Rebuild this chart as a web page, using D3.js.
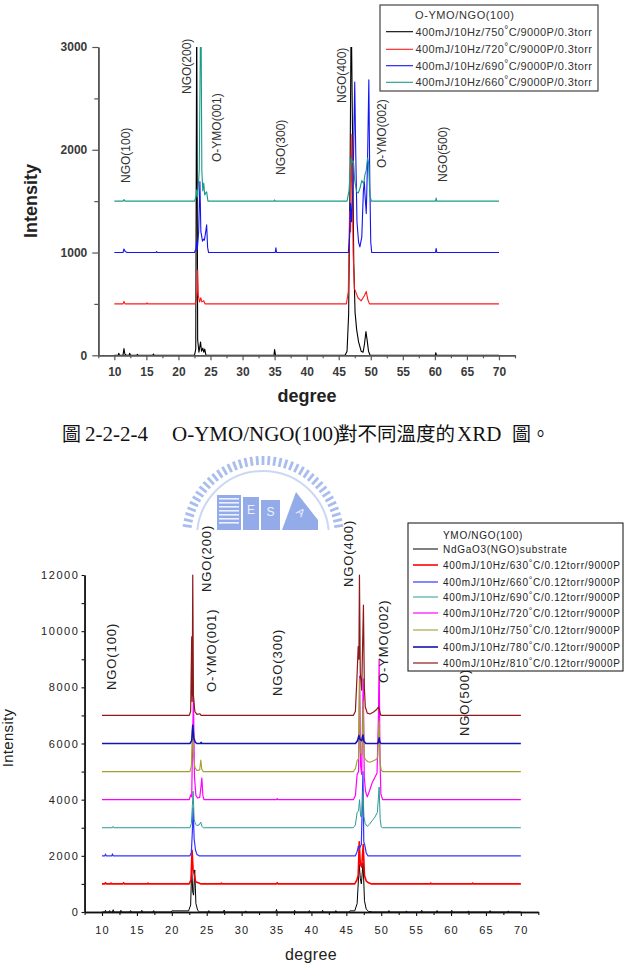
<!DOCTYPE html>
<html><head><meta charset="utf-8">
<script src="https://cdn.jsdelivr.net/npm/d3@7"></script>
<style>body{margin:0;background:#fff;} svg{display:block;}</style>
</head><body>
<svg id="c" width="624" height="980"></svg>
<script>
// ---------------- DATA ----------------
const xMajorTicks = [10,15,20,25,30,35,40,45,50,55,60,65,70];
const xMinorTicks = [7.5,12.5,17.5,22.5,27.5,32.5,37.5,42.5,47.5,52.5,57.5,62.5,67.5,72.5];
const topYTicks = [0,1000,2000,3000];
const topYMinor = [500,1500,2500];
const botYTicks = [0,2000,4000,6000,8000,10000,12000];
const botYMinor = [1000,3000,5000,7000,9000,11000];

const topLegendTitle = "O-YMO/NGO(100)";
const topLabels = ["400mJ/10Hz/750°C/9000P/0.3torr","400mJ/10Hz/720°C/9000P/0.3torr","400mJ/10Hz/690°C/9000P/0.3torr","400mJ/10Hz/660°C/9000P/0.3torr"];
const topOffsets = [0,500,1000,1500];

const top750 = [[10,0],[10.6,0],[10.7,20],[10.8,0],[11.35,0],[11.5,65],[11.65,10],[11.9,0],[12.3,0],[12.4,20],[12.5,0],[13.5,0],[13.6,10],[13.7,0],[16.0,0],[16.1,12],[16.2,0],[22.5,0],[22.7,60],[22.85,3400],[23.0,150],[23.2,30],[23.45,130],[23.6,40],[23.8,70],[23.95,30],[24.1,60],[24.3,0],[34.9,0],[35.0,55],[35.15,0],[46.0,0],[46.3,40],[46.55,400],[46.75,1600],[46.95,3400],[47.15,2200],[47.35,900],[47.55,420],[47.8,250],[48.1,130],[48.5,40],[48.8,30],[49.0,100],[49.25,230],[49.45,140],[49.65,40],[49.9,0],[60.05,0],[60.15,25],[60.25,0],[70,0]];
const top720 = [[10,0],[11.35,0],[11.5,25],[11.65,0],[15,0],[15.1,10],[15.2,0],[22.6,0],[22.8,40],[22.9,120],[23.0,330],[23.1,80],[23.3,20],[23.5,60],[23.65,20],[23.95,30],[24.15,0],[46.2,0],[46.5,120],[46.7,900],[46.85,700],[47.05,1650],[47.25,500],[47.45,150],[47.7,110],[48.0,60],[48.5,30],[49.0,80],[49.3,120],[49.55,40],[49.8,0],[70,0]];
const top690 = [[10,0],[11.35,0],[11.5,35],[11.7,10],[12.0,0],[16.5,0],[16.6,10],[16.7,0],[22.5,0],[22.75,40],[22.85,110],[22.95,30],[23.15,200],[23.35,690],[23.5,200],[23.6,170],[23.75,110],[23.9,130],[24.05,120],[24.25,200],[24.4,270],[24.55,50],[24.7,0],[35.1,0],[35.2,45],[35.3,0],[46.5,0],[46.7,150],[46.85,480],[47.0,300],[47.25,700],[47.5,1660],[47.65,1000],[47.85,300],[48.1,100],[48.3,55],[48.6,150],[48.85,600],[49.0,690],[49.1,560],[49.3,380],[49.5,900],[49.7,1680],[49.85,700],[50.0,100],[50.15,0],[60.1,0],[60.2,40],[60.3,0],[70,0]];
const top660 = [[10,0],[11.35,0],[11.5,15],[11.65,0],[22.5,0],[22.75,40],[22.85,110],[23.0,40],[23.25,300],[23.5,2100],[23.65,300],[23.8,100],[23.95,175],[24.1,60],[24.25,80],[24.4,90],[24.6,0],[34.9,0],[35.0,12],[35.1,0],[46.3,0],[46.6,100],[46.8,300],[46.95,420],[47.1,380],[47.3,390],[47.5,200],[47.8,90],[48.05,80],[48.3,120],[48.6,200],[48.9,170],[49.1,260],[49.3,300],[49.5,420],[49.65,380],[49.85,60],[50.1,0],[60.1,0],[60.2,30],[60.3,0],[70,0]];
const topSeries = [top750, top720, top690, top660];
const topColors = ["#000000","#ff1a1a","#1414f0","#1a9a8c"];

const topPeakLabels = ["NGO(100)","NGO(200)","O-YMO(001)","NGO(300)","NGO(400)","O-YMO(002)","NGO(500)"];

const botLegendTitle = "YMO/NGO(100)";
const botLabels = ["NdGaO3(NGO)substrate","400mJ/10Hz/630°C/0.12torr/9000P","400mJ/10Hz/660°C/0.12torr/9000P","400mJ/10Hz/690°C/0.12torr/9000P","400mJ/10Hz/720°C/0.12torr/9000P","400mJ/10Hz/750°C/0.12torr/9000P","400mJ/10Hz/780°C/0.12torr/9000P","400mJ/10Hz/810°C/0.12torr/9000P"];
const botOffsets = [0,1000,2000,3000,4000,5000,6000,7000];

const botSub = [[10,0],[10.4,0],[10.5,60],[10.6,0],[11.0,0],[11.1,50],[11.2,0],[11.5,0],[11.6,80],[11.7,0],[12.6,0],[12.7,60],[12.8,0],[14.0,0],[14.1,50],[14.2,0],[15.6,0],[15.7,60],[15.8,0],[17.3,0],[17.4,50],[17.5,0],[19.9,0],[20.0,40],[22.4,40],[22.7,250],[22.85,1600],[23.0,700],[23.12,600],[23.28,1500],[23.45,300],[23.7,60],[24.0,0],[25.2,0],[25.3,50],[25.4,0],[27.4,0],[27.5,70],[27.6,0],[30.5,0],[30.6,40],[30.7,0],[34.9,0],[35.0,90],[35.1,0],[37.5,0],[37.6,60],[37.7,0],[39.6,0],[39.7,50],[39.8,0],[41.5,0],[41.6,60],[41.7,0],[43.4,0],[43.5,50],[43.6,0],[45.4,0],[45.5,40],[46.2,40],[46.55,300],[46.85,1700],[47.0,1200],[47.15,1000],[47.4,1750],[47.6,400],[47.85,100],[48.2,20],[48.8,0],[51.0,0],[51.1,50],[51.2,0],[53.5,0],[53.6,40],[53.7,0],[55.7,0],[55.8,60],[55.9,0],[57.9,0],[58.0,50],[58.1,0],[60.0,0],[60.1,60],[60.2,0],[62.4,0],[62.5,40],[62.6,0],[65.5,0],[65.6,50],[65.7,0],[68.1,0],[68.2,40],[68.3,0],[70,0]];
const bot630 = [[10,0],[10.4,0],[10.5,40],[10.6,0],[11.2,0],[11.3,30],[11.4,0],[13.0,0],[13.1,40],[13.2,0],[16.5,0],[16.6,30],[16.7,0],[22.5,0],[22.75,150],[22.9,1200],[23.05,500],[23.2,350],[23.4,80],[23.8,40],[24.2,0],[27.0,0],[27.1,30],[27.2,0],[35.0,0],[35.1,40],[35.2,0],[46.2,0],[46.5,130],[46.7,300],[46.85,1500],[47.0,700],[47.2,600],[47.42,1400],[47.6,300],[47.85,100],[48.2,40],[48.6,0],[57.0,0],[57.1,30],[57.2,0],[63.0,0],[63.1,30],[63.2,0],[70,0]];
const bot660 = [[10,0],[10.4,0],[10.5,60],[10.6,0],[11.4,0],[11.5,70],[11.6,0],[22.6,0],[22.8,120],[22.95,900],[23.05,1700],[23.2,600],[23.4,200],[23.6,50],[23.9,0],[46.3,0],[46.55,150],[46.72,350],[46.85,250],[47.15,400],[47.38,3000],[47.5,500],[47.65,370],[47.85,100],[48.1,0],[70,0]];
const bot690 = [[10,0],[11.5,0],[11.6,50],[11.7,0],[22.6,0],[22.8,150],[22.95,800],[23.05,1300],[23.2,300],[23.4,120],[23.6,80],[23.9,100],[24.15,200],[24.3,60],[24.5,0],[46.0,0],[46.3,100],[46.55,550],[46.75,600],[46.9,1000],[47.05,400],[47.2,400],[47.4,1300],[47.52,400],[47.7,150],[48.0,50],[48.3,120],[48.7,250],[49.1,380],[49.45,550],[49.7,1450],[49.85,300],[50.0,30],[50.2,0],[70,0]];
const bot720 = [[10,0],[22.5,0],[22.7,170],[22.85,100],[23.0,2500],[23.1,3600],[23.25,800],[23.45,150],[23.7,60],[24.0,80],[24.2,500],[24.3,770],[24.45,150],[24.6,0],[35,0],[35.1,40],[35.2,0],[46.0,0],[46.3,150],[46.55,900],[46.75,1000],[46.9,4400],[47.05,1200],[47.2,900],[47.42,4300],[47.57,800],[47.75,300],[48.0,100],[48.3,300],[48.7,600],[49.1,800],[49.4,950],[49.6,3000],[49.7,5000],[49.82,1500],[49.95,200],[50.2,0],[70,0]];
const bot750 = [[10,0],[22.6,0],[22.8,200],[22.95,1500],[23.1,600],[23.3,150],[23.6,40],[24.0,60],[24.15,410],[24.3,80],[24.5,0],[46.0,0],[46.3,100],[46.55,400],[46.75,450],[46.88,3300],[47.0,700],[47.25,600],[47.42,2500],[47.57,500],[47.8,420],[48.1,350],[48.4,330],[48.8,380],[49.2,420],[49.5,500],[49.7,1800],[49.85,300],[50.0,50],[50.2,0],[70,0]];
const bot780 = [[10,0],[22.6,0],[22.85,100],[23.0,650],[23.15,200],[23.35,50],[23.6,0],[24.1,0],[24.2,40],[24.3,0],[46.3,0],[46.6,100],[46.8,280],[46.95,150],[47.2,100],[47.38,300],[47.52,80],[47.8,0],[49.5,0],[49.6,80],[49.7,200],[49.8,40],[50.0,0],[70,0]];
const bot810 = [[10,0],[22.5,0],[22.7,150],[22.85,2800],[22.92,500],[23.0,5000],[23.1,700],[23.3,140],[23.6,40],[24.0,60],[24.2,0],[46.0,0],[46.3,150],[46.55,1500],[46.7,2450],[46.8,2000],[46.88,5000],[47.0,1500],[47.2,900],[47.45,3930],[47.58,1000],[47.72,300],[48.0,80],[48.4,50],[48.9,120],[49.3,200],[49.6,300],[49.75,200],[49.9,20],[50.1,0],[70,0]];
const botSeries = [botSub, bot630, bot660, bot690, bot720, bot750, bot780, bot810];
const botColors = ["#000000","#ff0000","#3434ff","#2a9a94","#ff00ff","#a0a030","#1414b0","#8b1a1a"];
const botWidths = [1,1.6,1.2,1,1.2,1.1,1.6,1.2];

const botPeakLabels = ["NGO(100)","NGO(200)","O-YMO(001)","NGO(300)","NGO(400)","O-YMO(002)","NGO(500)"];

// ---------------- DRAW ----------------
const svg = d3.select("#c");
svg.append("rect").attr("width",624).attr("height",980).attr("fill","#fff");
const SANS = "'Liberation Sans', Arial, sans-serif";

// watermark logo (partly hidden behind the lower figure)
(function logo(){
  const defs = svg.append("defs");
  defs.append("clipPath").attr("id","logoClip").append("rect").attr("x",150).attr("y",440).attr("width",240).attr("height",90);
  const g = svg.append("g").attr("clip-path","url(#logoClip)").attr("opacity",0.85);
  const cx = 263, cy = 537, col = "#9bb3ec";
  for (let a = 184; a <= 356; a += 4.3) {
    g.append("rect").attr("x",-1.4).attr("y",-81).attr("width",2.8).attr("height",9)
      .attr("fill",col).attr("transform",`translate(${cx},${cy}) rotate(${a+90})`);
  }
  g.append("circle").attr("cx",cx).attr("cy",cy).attr("r",66).attr("fill","none").attr("stroke","#c3d1f4").attr("stroke-width",2);
  g.append("rect").attr("x",217).attr("y",495).attr("width",24).attr("height",35).attr("fill","#819ee6");
  for (let i=0;i<7;i++) g.append("rect").attr("x",219).attr("y",498+i*4).attr("width",20).attr("height",1.6).attr("fill","#e8eefc");
  g.append("rect").attr("x",243).attr("y",497).attr("width",16).attr("height",33).attr("fill","#819ee6");
  g.append("text").attr("x",251).attr("y",514).attr("text-anchor","middle").attr("font-family",SANS).attr("font-size",12).attr("fill","#e8eefc").text("E");
  g.append("rect").attr("x",261).attr("y",500).attr("width",19).attr("height",30).attr("fill","#819ee6");
  g.append("text").attr("x",270.5).attr("y",516).attr("text-anchor","middle").attr("font-family",SANS).attr("font-size",12).attr("fill","#e8eefc").text("S");
  g.append("path").attr("d","M282,530 L296,492 L318,520 L318,530 Z").attr("fill","#819ee6");
  g.append("text").attr("x",301).attr("y",516).attr("text-anchor","middle").attr("font-family",SANS).attr("font-size",11).attr("fill","#e8eefc").attr("transform","rotate(40,301,512)").text("A");
})();

function degreeText(sel, label, fs){
  const parts = label.split("°");
  sel.append("tspan").text(parts[0]);
  if (parts.length > 1) {
    sel.append("tspan").attr("dy",-3).attr("font-size",fs-1).text("°");
    sel.append("tspan").attr("dy",3).text(parts[1]);
  }
}

// ===== TOP CHART =====
{
  const x = d3.scaleLinear().domain([7.5,72.5]).range([98.3,515]);
  const y = d3.scaleLinear().domain([0,3000]).range([355.3,47]);
  const axisCol = "#555";
  svg.append("defs").append("clipPath").attr("id","topClip").append("rect")
    .attr("x",90).attr("y",47).attr("width",440).attr("height",320);
  const lg = svg.append("g").attr("clip-path","url(#topClip)");
  topSeries.forEach((s,i)=>{
    const line = d3.line().x(d=>x(d[0])).y(d=>y(d[1]+topOffsets[i]));
    lg.append("path").attr("d",line(s)).attr("fill","none").attr("stroke",topColors[i])
      .attr("stroke-width",1.1).attr("stroke-linejoin","round");
  });
  const gx = svg.append("g").attr("transform",`translate(0,${y(0)})`);
  gx.call(d3.axisBottom(x).tickValues(xMinorTicks).tickSize(3).tickSizeOuter(0).tickFormat(""));
  const gx2 = svg.append("g").attr("transform",`translate(0,${y(0)})`);
  gx2.call(d3.axisBottom(x).tickValues(xMajorTicks).tickSize(5).tickSizeOuter(0).tickFormat(d3.format("d")));
  const gy = svg.append("g").attr("transform",`translate(${x(7.5)},0)`);
  gy.call(d3.axisLeft(y).tickValues(topYMinor).tickSize(4).tickSizeOuter(0).tickFormat(""));
  const gy2 = svg.append("g").attr("transform",`translate(${x(7.5)},0)`);
  gy2.call(d3.axisLeft(y).tickValues(topYTicks).tickSize(6).tickSizeOuter(0).tickPadding(5).tickFormat(d3.format("d")));
  [gx,gx2,gy,gy2].forEach(g=>{
    g.selectAll("path.domain").attr("stroke",axisCol).attr("stroke-width",1.6);
    g.selectAll("line").attr("stroke",axisCol).attr("stroke-width",1.2);
    g.selectAll("text").attr("font-family",SANS).attr("font-size",12).attr("font-weight","bold").attr("fill","#3a3a3a");
  });
  gx2.selectAll("text").attr("y",12.5);
  svg.append("text").attr("x",307).attr("y",402).attr("text-anchor","middle").attr("font-family",SANS)
    .attr("font-size",18).attr("font-weight","bold").attr("fill","#222").text("degree");
  svg.append("text").attr("transform","translate(36.5,201) rotate(-90)").attr("text-anchor","middle").attr("font-family",SANS)
    .attr("font-size",18).attr("font-weight","bold").attr("fill","#222").text("Intensity");
  const pos = [[126,183],[186.5,94],[216.5,162],[281,175],[341.7,103],[382,168],[443,182]];
  topPeakLabels.forEach((t,i)=>{
    svg.append("text").attr("transform",`translate(${pos[i][0]+4.3},${pos[i][1]}) rotate(-90)`)
      .attr("font-family",SANS).attr("font-size",12).attr("fill","#333").text(t);
  });
  svg.append("rect").attr("x",380).attr("y",5).attr("width",218).attr("height",86)
    .attr("fill","#fff").attr("stroke","#444").attr("stroke-width",1.2);
  svg.append("text").attr("x",415).attr("y",19).attr("font-family",SANS).attr("font-size",11)
    .attr("letter-spacing",0.6).attr("fill","#333").text(topLegendTitle);
  const rows = [31.7,49.3,65.7,82.3];
  topLabels.forEach((lab,i)=>{
    svg.append("line").attr("x1",386).attr("x2",413).attr("y1",rows[i]).attr("y2",rows[i])
      .attr("stroke",topColors[i]).attr("stroke-width",1.1);
    const t = svg.append("text").attr("x",415.5).attr("y",rows[i]+4).attr("font-family",SANS)
      .attr("font-size",11).attr("letter-spacing",0.4).attr("fill","#333");
    degreeText(t, lab, 11);
  });
}

// ===== CAPTION =====
{
  const CJK = "'Noto Sans CJK TC',sans-serif";
  const t = svg.append("text").attr("y",441).attr("font-family","'Liberation Serif','Times New Roman',serif")
    .attr("font-size",21).attr("fill","#111");
  t.append("tspan").attr("x",62).attr("font-family",CJK).attr("font-size",19).text("圖");
  t.append("tspan").attr("x",85).text("2-2-2-4");
  t.append("tspan").attr("x",172).text("O-YMO/NGO(100)");
  t.append("tspan").attr("x",338).attr("font-family",CJK).attr("font-size",19.5).text("對不同溫度的");
  t.append("tspan").attr("x",457).text("XRD");
  t.append("tspan").attr("x",512).attr("font-family",CJK).attr("font-size",19).text("圖。");
}

// ===== BOTTOM CHART =====
{
  const x = d3.scaleLinear().domain([7.5,72.5]).range([84.55,538.3]);
  const y = d3.scaleLinear().domain([0,12000]).range([912,575]);
  const axisCol = "#111";
  botSeries.forEach((s,i)=>{
    const line = d3.line().x(d=>x(d[0])).y(d=>y(d[1]+botOffsets[i]));
    svg.append("path").attr("d",line(s)).attr("fill","none").attr("stroke",botColors[i])
      .attr("stroke-width",botWidths[i]).attr("stroke-linejoin","round");
  });
  const gx = svg.append("g").attr("transform",`translate(0,${y(0)})`);
  gx.call(d3.axisBottom(x).tickValues(xMinorTicks).tickSize(3).tickSizeOuter(0).tickFormat(""));
  const gx2 = svg.append("g").attr("transform",`translate(0,${y(0)})`);
  gx2.call(d3.axisBottom(x).tickValues(xMajorTicks).tickSize(4).tickSizeOuter(0).tickFormat(d3.format("d")));
  const gy = svg.append("g").attr("transform",`translate(${x(7.5)},0)`);
  gy.call(d3.axisLeft(y).tickValues(botYMinor).tickSize(3).tickSizeOuter(0).tickFormat(""));
  const gy2 = svg.append("g").attr("transform",`translate(${x(7.5)},0)`);
  gy2.call(d3.axisLeft(y).tickValues(botYTicks).tickSize(3).tickSizeOuter(0).tickPadding(2).tickFormat(d3.format("d")));
  [gx,gx2,gy,gy2].forEach(g=>{
    g.selectAll("path.domain").attr("stroke",axisCol).attr("stroke-width",1.4);
    g.selectAll("line").attr("stroke",axisCol).attr("stroke-width",1.1);
    g.selectAll("text").attr("font-family",SANS).attr("font-size",11).attr("fill","#222");
  });
  gy2.selectAll("text").attr("letter-spacing",1.6);
  gx2.selectAll("text").attr("letter-spacing",1.2).attr("y",14);
  svg.append("text").attr("x",311).attr("y",960).attr("text-anchor","middle").attr("font-family",SANS)
    .attr("font-size",16).attr("letter-spacing",0.4).attr("fill","#222").text("degree");
  svg.append("text").attr("transform","translate(12.5,738) rotate(-90)").attr("text-anchor","middle").attr("font-family",SANS)
    .attr("font-size",15).attr("letter-spacing",0.3).attr("fill","#222").text("Intensity");
  const pos = [[111,690],[206,592],[211.5,692],[277.5,696],[348.5,587],[383,683],[464.5,736]];
  botPeakLabels.forEach((t,i)=>{
    svg.append("text").attr("transform",`translate(${pos[i][0]+4.7},${pos[i][1]}) rotate(-90)`)
      .attr("font-family",SANS).attr("font-size",13).attr("letter-spacing",0.9).attr("fill","#222").text(t);
  });
  svg.append("rect").attr("x",408).attr("y",523).attr("width",215).attr("height",148)
    .attr("fill","#fff").attr("stroke","#222").attr("stroke-width",1.1);
  svg.append("text").attr("x",443).attr("y",539).attr("font-family",SANS).attr("font-size",10)
    .attr("letter-spacing",0.7).attr("fill","#222").text(botLegendTitle);
  const rows = [549,565,582,597,613,630,647,663];
  botLabels.forEach((lab,i)=>{
    svg.append("line").attr("x1",413).attr("x2",438).attr("y1",rows[i]).attr("y2",rows[i])
      .attr("stroke",botColors[i]).attr("stroke-width",botWidths[i]);
    const t = svg.append("text").attr("x",443).attr("y",rows[i]+3.5).attr("font-family",SANS)
      .attr("font-size",10).attr("letter-spacing",0.72).attr("fill","#222");
    degreeText(t, lab, 10);
  });
}
</script>
</body></html>
